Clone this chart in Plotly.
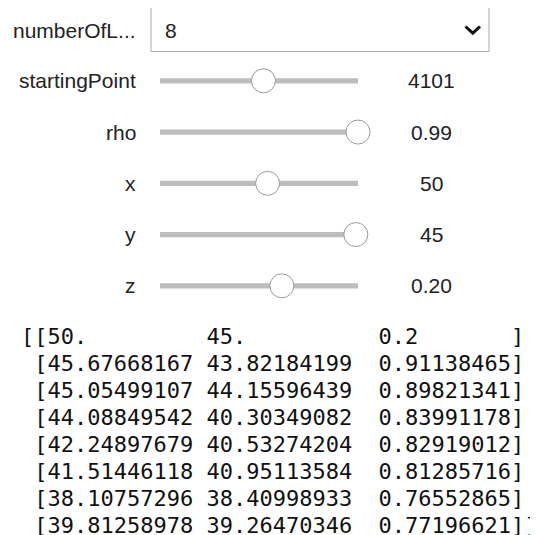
import plotly.graph_objects as go

# ---------------- data ----------------
dropdown_label = "numberOfL..."
dropdown_value = "8"

slider_labels = ["startingPoint", "rho", "x", "y", "z"]
slider_values = [4101, 0.99, 50, 45, 0.20]
slider_value_text = ["4101", "0.99", "50", "45", "0.20"]
slider_min = [0, 0, 0, 0, -1]
slider_max = [7850, 0.99, 92, 45.5, 0.95]

col_x = [50.0, 45.67668167, 45.05499107, 44.08849542, 42.24897679, 41.51446118, 38.10757296, 39.81258978]
col_y = [45.0, 43.82184199, 44.15596439, 40.30349082, 40.53274204, 40.95113584, 38.40998933, 39.26470346]
col_z = [0.2, 0.91138465, 0.89821341, 0.83991178, 0.82919012, 0.81285716, 0.76552865, 0.77196621]

# ---------------- layout constants ----------------
W, H = 538, 535
PAGE_MARGIN = 8  # default body margin of the html page
SANS = "Liberation Sans, Arial, sans-serif"
MONO = "DejaVu Sans Mono, monospace"
LABEL_SIZE = 21
TRACK_X0, TRACK_X1 = 160, 358
ROW_Y0, ROW_DY = 80.8, 51.25
VALUE_X = 431
LABEL_RIGHT = 138
MAT_X, MAT_Y0, MAT_DY = 19.0, 336.5, 27.0
MAT_SIZE = 22


def fmt(v):
    s = f"{v:.8f}".rstrip("0")
    ip, fp = s.split(".")
    return ip.rjust(2) + "." + fp.ljust(8)


rows = list(zip(col_x, col_y, col_z))
lines = []
for i, r in enumerate(rows):
    body = "[" + " ".join(fmt(v) for v in r) + "]"
    prefix = "[" if i == 0 else " "
    suffix = "]" if i == len(rows) - 1 else ""
    lines.append((prefix + body + suffix).replace(" ", "\u00a0"))

fig = go.Figure()
shapes = []
annotations = []

# dropdown
annotations.append(dict(x=LABEL_RIGHT, y=30, text=dropdown_label, xanchor="right", yanchor="middle",
                        showarrow=False, font=dict(family=SANS, size=LABEL_SIZE, color="#222")))
shapes.append(dict(type="rect", x0=151, x1=489, y0=7.5, y1=51.5,
                   line=dict(color="#a8a8a8", width=1), fillcolor="white"))
annotations.append(dict(x=163, y=30, text=dropdown_value, xanchor="left", yanchor="middle",
                        showarrow=False, font=dict(family=SANS, size=LABEL_SIZE, color="#222")))
shapes.append(dict(type="path", path="M 465.5 26.5 L 472.8 33.2 L 480 26.5",
                   line=dict(color="#111", width=3)))

# sliders
hx, hy = [], []
for i, (lab, v, vt, lo, hi) in enumerate(zip(slider_labels, slider_values, slider_value_text,
                                             slider_min, slider_max)):
    y = ROW_Y0 + i * ROW_DY
    annotations.append(dict(x=LABEL_RIGHT, y=y, text=lab, xanchor="right", yanchor="middle",
                            showarrow=False, font=dict(family=SANS, size=LABEL_SIZE, color="#222")))
    shapes.append(dict(type="rect", x0=TRACK_X0, x1=TRACK_X1, y0=y - 2.6, y1=y + 2.6,
                       line=dict(width=0), fillcolor="#bdbdbd", layer="below"))
    annotations.append(dict(x=VALUE_X, y=y, text=vt, xanchor="center", yanchor="middle",
                            showarrow=False, font=dict(family=SANS, size=LABEL_SIZE, color="#222")))
    frac = (v - lo) / (hi - lo)
    hx.append(TRACK_X0 + frac * (TRACK_X1 - TRACK_X0))
    hy.append(y)

fig.add_trace(go.Scatter(x=hx, y=hy, mode="markers", cliponaxis=False, hoverinfo="skip",
                         marker=dict(size=24, color="white", line=dict(color="#9a9a9a", width=1))))

# matrix output
for i, ln in enumerate(lines):
    annotations.append(dict(x=MAT_X, y=MAT_Y0 + i * MAT_DY, text=ln, xanchor="left", yanchor="middle",
                            showarrow=False, font=dict(family=MONO, size=MAT_SIZE, color="#111")))

fig.update_layout(
    width=W - PAGE_MARGIN, height=H - PAGE_MARGIN, autosize=False,
    margin=dict(l=0, r=0, t=0, b=0),
    paper_bgcolor="white", plot_bgcolor="white",
    showlegend=False,
    xaxis=dict(range=[PAGE_MARGIN, W], visible=False, fixedrange=True),
    yaxis=dict(range=[H, PAGE_MARGIN], visible=False, fixedrange=True),
    shapes=shapes, annotations=annotations,
)

fig.write_html("out.html", config={"displayModeBar": False})
